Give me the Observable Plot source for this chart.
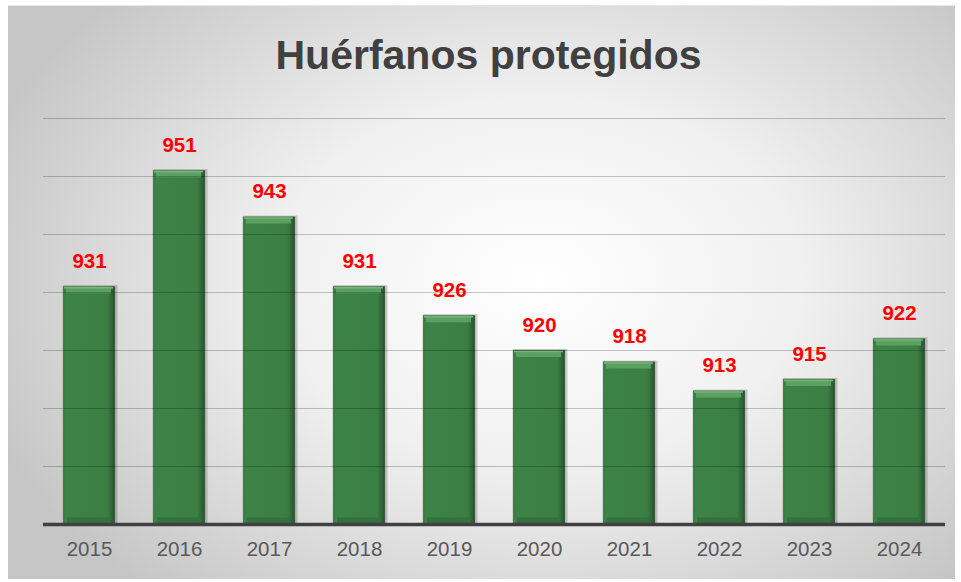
<!DOCTYPE html>
<html>
<head>
<meta charset="utf-8">
<script src="https://cdn.jsdelivr.net/npm/d3@7"></script>
<script src="https://cdn.jsdelivr.net/npm/@observablehq/plot@0.6"></script>
<style>
  html, body { margin: 0; padding: 0; background: #ffffff; }
  #wrap { position: relative; width: 961px; height: 582px; overflow: hidden; }
  #panel {
    position: absolute; left: 8px; top: 5px; width: 947px; height: 573px;
    background: radial-gradient(ellipse 62% 72% at 56% 48%, #ffffff 0%, #f0f0f0 45%, #c6c6c6 100%);
    border-top: 1px solid #e6e6e6;
  }
  #title {
    position: absolute; left: 0; width: 977px; top: 35px; text-align: center;
    font-family: "Liberation Sans", Arial, sans-serif; font-weight: bold;
    font-size: 41px; line-height: 41px; color: #404040; margin: 0;
  }
  #chart { position: absolute; left: 0; top: 0; }
</style>
</head>
<body>
<div id="wrap">
  <div id="panel"></div>
  <h1 id="title">Huérfanos protegidos</h1>
  <div id="chart"></div>
</div>
<script>
const years = ["2015","2016","2017","2018","2019","2020","2021","2022","2023","2024"];
const values = [931, 951, 943, 931, 926, 920, 918, 913, 915, 922];
const gridTicks = [900, 910, 920, 930, 940, 950, 960];
const yMin = 890;
const yMax = 960;

const data = years.map((year, i) => ({year, value: values[i]}));

const defs = () => {
  const d = d3.create("svg:defs");
  const g = d.append("linearGradient").attr("id", "barGrad").attr("x1", "0").attr("x2", "1").attr("y1", "0").attr("y2", "0");
  g.append("stop").attr("offset", "0%").attr("stop-color", "#3a7a43");
  g.append("stop").attr("offset", "6%").attr("stop-color", "#3d8247");
  g.append("stop").attr("offset", "85%").attr("stop-color", "#3b7f45");
  g.append("stop").attr("offset", "94%").attr("stop-color", "#2f6437");
  g.append("stop").attr("offset", "100%").attr("stop-color", "#26502c");
  return d.node();
};

const chart = Plot.plot({
  width: 961,
  height: 582,
  marginLeft: 43,
  marginRight: 16,
  marginTop: 118,
  marginBottom: 58,
  style: { background: "transparent", fontFamily: "'Liberation Sans', Arial, sans-serif", overflow: "visible" },
  x: { domain: years, paddingInner: 0.42, paddingOuter: 0.21, label: null },
  y: { domain: [yMin, yMax], axis: null },
  marks: [
    defs,
    // shadow
    Plot.barY(data, { x: "year", y1: yMin, y2: "value", fill: "#000", fillOpacity: 0.18, dx: 1.5, dy: -1, insetLeft: -1, insetRight: -1 }),
    Plot.barY(data, { x: "year", y1: yMin, y2: "value", fill: "url(#barGrad)", stroke: "#7a8a7c", strokeOpacity: 0.5, strokeWidth: 0.8 }),
    // top bevel highlight
    Plot.tickY(data, { x: "year", y: "value", stroke: "#5c9f63", strokeWidth: 6, dy: 3.5, insetLeft: 3, insetRight: 4 }),
    Plot.tickY(data, { x: "year", y: "value", stroke: "#75b57a", strokeWidth: 1.5, dy: 1, insetLeft: 1, insetRight: 2 }),
    // bottom bevel
    Plot.tickY(data, { x: "year", y: yMin, stroke: "#34713d", strokeWidth: 6, dy: -4, insetLeft: 4, insetRight: 5 }),
    // gridlines over bars
    Plot.ruleY(gridTicks, { stroke: "#000", strokeOpacity: 0.22, strokeWidth: 1.2 }),
    // baseline
    Plot.ruleY([yMin], { stroke: "#404040", strokeWidth: 3.5 }),
    // value labels
    Plot.text(data, { x: "year", y: "value", text: d => String(d.value), dy: -19, lineAnchor: "bottom", fill: "#ff0000", fontWeight: "bold", fontSize: 20.5 }),
    Plot.axisX({ tickSize: 0, tickPadding: 17, fontSize: 20.5, color: "#595959", label: null })
  ]
});
document.getElementById("chart").appendChild(chart);
</script>
</body>
</html>
